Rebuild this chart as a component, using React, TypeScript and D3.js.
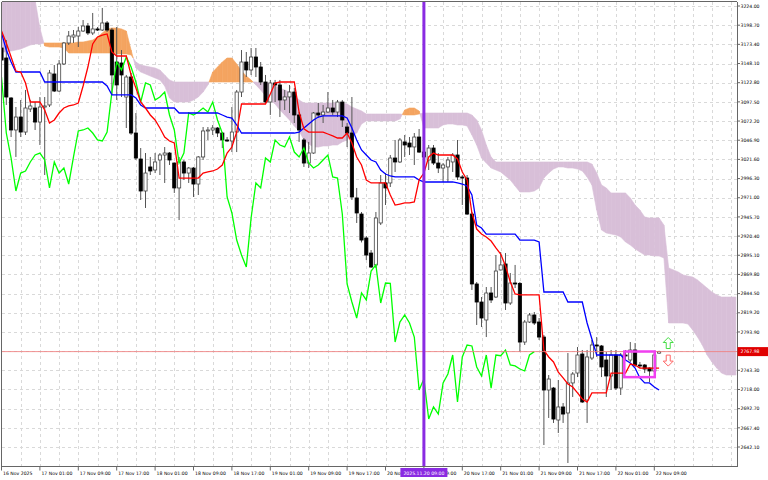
import React from "react";
import * as d3 from "d3";

// ---------- DATA (H1 bars, 16 Nov 17:00 .. 22 Nov 10:00) ----------
const opens = [
  3168.6, 3155.4, 3102.6, 3060.4, 3077.5, 3057.7, 3088.1, 3089.4, 3070.9, 3090.7,
  3093.4, 3134.3, 3111.8, 3147.5, 3175.2, 3183.1, 3184.4, 3191.0, 3197.6, 3188.4,
  3193.7, 3192.3, 3201.6, 3192.3, 3150.1, 3148.8, 3103.9, 3130.3, 3056.4, 3022.1,
  2979.9, 3011.6, 3007.6, 3020.8, 3027.4, 3030.0, 3016.8, 2983.9, 3018.2, 3003.6,
  3010.2, 2989.1, 3024.8, 3059.1, 3060.4, 3063.0, 3056.4, 3047.2, 3045.9, 3057.7,
  3110.5, 3150.1, 3139.6, 3156.7, 3143.5, 3123.7, 3097.3, 3122.4, 3119.8, 3100.0,
  3104.0, 3110.5, 3080.2, 3047.2, 3016.8, 3030.0, 3082.8, 3080.2, 3084.1, 3089.4,
  3084.1, 3097.3, 3064.3, 3056.4, 2970.7, 2949.5, 2917.9, 2898.0, 2882.3, 2937.7,
  2990.5, 2990.5, 3023.4, 3018.2, 3044.6, 3043.2, 3038.0, 3051.1, 3031.3, 3020.8,
  3036.6, 3016.8, 3010.2, 3011.6, 3018.2, 3027.4, 2998.4, 2997.0, 2949.5, 2857.2,
  2833.4, 2809.7, 2845.3, 2840.0, 2875.7, 2883.6, 2832.1, 2858.5, 2858.0, 2780.6,
  2807.0, 2816.3, 2807.0, 2787.2, 2717.3, 2719.9, 2677.7, 2694.9, 2687.0, 2726.6,
  2739.7, 2764.8, 2704.1, 2759.5, 2776.7, 2775.4, 2756.9, 2735.8, 2763.5, 2719.9,
  2763.5, 2756.9, 2770.1, 2750.3, 2750.3, 2746.3, 2742.4, 2766.0,
];
const highs = [
  3173.9, 3179.1, 3103.9, 3090.7, 3100.0, 3113.2, 3100.0, 3097.4, 3103.9, 3103.9,
  3139.6, 3146.1, 3152.7, 3176.5, 3191.0, 3192.3, 3196.3, 3205.5, 3201.6, 3214.8,
  3196.3, 3221.4, 3204.2, 3195.0, 3196.3, 3165.9, 3133.0, 3135.6, 3082.8, 3036.6,
  3030.0, 3024.8, 3030.0, 3030.0, 3037.9, 3031.3, 3017.5, 3024.8, 3020.8, 3011.6,
  3011.6, 3026.0, 3064.3, 3064.3, 3066.9, 3064.3, 3057.7, 3051.1, 3090.7, 3113.2,
  3165.9, 3163.3, 3168.6, 3168.6, 3150.1, 3133.0, 3126.4, 3126.4, 3126.4, 3113.2,
  3119.8, 3115.8, 3084.1, 3049.8, 3044.6, 3084.1, 3096.0, 3093.4, 3110.5, 3100.0,
  3100.0, 3100.0, 3069.6, 3103.9, 2983.9, 2952.2, 2920.5, 2902.0, 2952.2, 3001.0,
  3003.6, 3027.4, 3047.2, 3049.8, 3053.8, 3051.1, 3056.4, 3061.7, 3034.0, 3040.6,
  3040.6, 3030.0, 3016.8, 3024.8, 3030.0, 3047.2, 3001.0, 3001.0, 2952.2, 2859.8,
  2840.0, 2853.2, 2853.2, 2895.4, 2899.4, 2898.0, 2871.7, 2882.3, 2859.8, 2809.7,
  2818.9, 2820.2, 2812.3, 2789.9, 2737.1, 2721.3, 2730.5, 2700.1, 2766.1, 2741.0,
  2774.0, 2770.1, 2770.1, 2783.3, 2787.2, 2776.7, 2767.5, 2770.1, 2770.1, 2766.1,
  2770.1, 2780.6, 2779.3, 2754.3, 2751.6, 2747.0, 2766.1, 2769.0,
];
const lows = [
  3150.1, 3093.4, 3051.1, 3024.8, 3051.1, 3053.8, 3084.1, 3060.4, 3040.6, 3001.0,
  3090.7, 3110.5, 3110.5, 3146.1, 3172.5, 3175.2, 3169.9, 3189.7, 3185.7, 3185.7,
  3191.0, 3191.0, 3189.7, 3106.5, 3100.0, 3103.9, 3063.0, 3054.0, 3020.8, 2968.0,
  2957.5, 3001.0, 3003.6, 3001.0, 2990.5, 3014.2, 2977.3, 2941.6, 2994.4, 2990.5,
  2972.0, 2974.6, 3020.8, 3047.2, 3053.8, 3051.1, 3036.6, 3044.6, 3031.3, 3031.3,
  3103.9, 3130.3, 3132.9, 3130.3, 3119.8, 3096.0, 3080.2, 3097.3, 3077.5, 3086.8,
  3082.8, 3069.6, 3044.6, 3011.6, 3010.2, 3029.0, 3076.2, 3069.6, 3083.0, 3080.2,
  3077.5, 3064.3, 3037.9, 2968.0, 2937.7, 2912.0, 2888.8, 2878.3, 2878.3, 2935.0,
  2961.4, 2985.2, 3005.0, 3016.8, 3024.8, 3027.4, 3014.2, 3030.0, 3020.8, 3007.6,
  3014.2, 3003.6, 2991.8, 2991.8, 3005.0, 2994.4, 2961.4, 2948.2, 2849.3, 2803.1,
  2800.4, 2787.2, 2832.1, 2838.7, 2875.0, 2822.9, 2829.5, 2851.9, 2767.5, 2776.7,
  2805.7, 2803.1, 2783.3, 2644.7, 2680.4, 2673.8, 2660.6, 2673.8, 2621.0, 2708.1,
  2734.4, 2700.2, 2673.8, 2756.9, 2760.9, 2734.4, 2708.1, 2717.3, 2717.3, 2710.7,
  2756.9, 2754.3, 2747.7, 2746.3, 2739.7, 2727.9, 2741.0, 2765.0,
];
const closes = [
  3152.7, 3103.9, 3060.4, 3077.5, 3057.7, 3089.4, 3092.1, 3070.9, 3090.7, 3092.1,
  3135.6, 3111.8, 3147.5, 3175.2, 3184.4, 3185.7, 3191.0, 3197.6, 3188.4, 3193.7,
  3192.3, 3201.6, 3192.3, 3133.0, 3119.8, 3133.0, 3130.3, 3056.4, 3023.4, 2979.9,
  3003.6, 3006.3, 3018.2, 3027.4, 3030.0, 3020.8, 2983.9, 3018.2, 3003.6, 3010.2,
  2989.1, 3024.8, 3059.1, 3060.4, 3063.0, 3056.4, 3047.2, 3045.9, 3057.7, 3110.5,
  3150.1, 3139.6, 3156.7, 3143.5, 3123.7, 3097.3, 3122.4, 3119.8, 3100.0, 3104.0,
  3110.5, 3080.2, 3060.4, 3016.8, 3030.0, 3082.8, 3080.2, 3084.1, 3089.4, 3084.1,
  3097.3, 3073.6, 3056.4, 2972.0, 2950.9, 2915.2, 2895.4, 2879.6, 2944.3, 2990.5,
  2983.9, 3023.4, 3018.2, 3047.2, 3040.6, 3038.0, 3051.1, 3031.3, 3024.8, 3036.6,
  3016.8, 3010.2, 3014.2, 3020.8, 3027.4, 2998.4, 2997.0, 2949.5, 2857.2, 2833.4,
  2812.3, 2845.3, 2836.1, 2874.3, 2882.3, 2832.1, 2858.5, 2858.0, 2780.6, 2807.0,
  2816.3, 2805.7, 2787.2, 2717.3, 2731.8, 2679.0, 2694.9, 2685.6, 2726.6, 2738.4,
  2763.5, 2701.5, 2760.9, 2776.7, 2775.4, 2747.7, 2735.8, 2763.5, 2719.9, 2763.5,
  2762.5, 2770.1, 2750.3, 2749.0, 2745.0, 2742.4, 2763.5, 2767.98,
];
const tenkan = [
  3191.0, 3175.2, 3156.7, 3138.2, 3136.9, 3122.4, 3097.3, 3097.3, 3097.3, 3086.8,
  3069.6, 3073.6, 3082.8, 3089.4, 3092.1, 3093.4, 3096.0, 3118.4, 3143.5, 3173.9,
  3183.1, 3185.7, 3187.1, 3163.3, 3158.0, 3158.0, 3158.0, 3133.0, 3115.8, 3097.3,
  3089.4, 3080.2, 3073.6, 3063.0, 3051.1, 3045.9, 3043.2, 2997.0, 2997.0, 2997.0,
  2997.0, 2997.0, 3003.6, 3005.0, 3006.3, 3008.9, 3014.2, 3030.0, 3037.9, 3057.7,
  3094.7, 3094.7, 3094.7, 3094.7, 3094.7, 3094.7, 3108.0, 3122.4, 3123.7, 3123.7,
  3123.7, 3123.7, 3084.0, 3062.0, 3057.7, 3057.7, 3057.7, 3057.7, 3055.1, 3052.5,
  3049.8, 3049.8, 3056.4, 3043.2, 3024.8, 3014.2, 2994.4, 2990.5, 2990.5, 2990.5,
  2990.5, 2974.6, 2961.4, 2962.7, 2964.1, 2964.1, 2965.4, 2994.4, 3003.6, 3024.8,
  3030.0, 3027.4, 3027.4, 3027.4, 3027.4, 3022.1, 3005.0, 2994.4, 2950.9, 2929.7,
  2923.1, 2919.2, 2913.9, 2904.7, 2896.8, 2880.9, 2859.8, 2844.0, 2842.7, 2842.7,
  2842.7, 2842.7, 2842.7, 2770.1, 2760.9, 2754.3, 2741.0, 2733.2, 2725.2, 2721.3,
  2713.4, 2705.4, 2701.5, 2713.4, 2713.4, 2713.4, 2713.4, 2739.7, 2739.7, 2739.7,
  2739.7, 2751.6, 2750.3, 2746.3, 2746.3, 2746.3, 2746.3, 2746.3,
];
const kijun = [
  3188.4, 3165.9, 3150.1, 3136.9, 3136.9, 3136.9, 3136.9, 3136.9, 3136.9, 3123.7,
  3123.7, 3123.7, 3123.7, 3123.7, 3123.7, 3123.7, 3123.7, 3123.7, 3123.7, 3123.7,
  3123.7, 3123.7, 3118.4, 3106.6, 3106.6, 3106.6, 3106.6, 3106.6, 3102.6, 3093.4,
  3089.4, 3089.4, 3089.4, 3089.4, 3089.4, 3089.4, 3089.4, 3082.8, 3082.8, 3082.8,
  3082.8, 3082.8, 3082.8, 3082.8, 3082.8, 3082.8, 3080.2, 3077.5, 3076.2, 3067.0,
  3056.4, 3056.4, 3056.4, 3056.4, 3056.4, 3056.4, 3056.4, 3056.4, 3056.4, 3056.4,
  3056.4, 3056.4, 3057.7, 3063.0, 3068.3, 3073.6, 3077.5, 3078.9, 3078.9, 3078.9,
  3078.9, 3078.9, 3076.2, 3063.0, 3047.2, 3034.0, 3027.4, 3020.8, 3018.2, 3007.6,
  3002.3, 2999.7, 2998.4, 2998.4, 2998.4, 2998.4, 2998.4, 2994.4, 2991.8, 2991.8,
  2991.8, 2991.8, 2991.8, 2991.8, 2991.8, 2990.5, 2989.1, 2986.5, 2974.6, 2935.0,
  2931.1, 2923.1, 2923.1, 2923.1, 2923.1, 2923.1, 2923.1, 2923.1, 2915.2, 2915.2,
  2915.2, 2915.2, 2912.6, 2846.6, 2846.6, 2846.6, 2846.6, 2846.6, 2833.4, 2833.4,
  2833.4, 2833.4, 2805.7, 2784.6, 2763.5, 2763.5, 2763.5, 2763.5, 2763.5, 2763.5,
  2756.9, 2752.9, 2746.3, 2733.2, 2726.6, 2726.6, 2721.3, 2717.3,
];
// Senkou spans as displayed (already shifted 26 bars forward), bars 0..153
const spanA = [
  3163.3, 3163.3, 3164.6, 3165.9, 3167.3, 3169.9, 3172.5, 3173.9, 3173.9, 3175.2,
  3175.2, 3175.2, 3175.2, 3175.2, 3175.2, 3175.2, 3176.5, 3176.5, 3177.8, 3179.1,
  3183.1, 3188.4, 3193.7, 3195.0, 3195.0, 3193.7, 3191.0, 3165.9, 3142.2, 3136.9,
  3134.3, 3131.6, 3129.0, 3126.4, 3118.4, 3102.6, 3097.3, 3097.3, 3097.3, 3097.3,
  3100.0, 3103.9, 3110.5, 3119.8, 3136.9, 3143.5, 3150.1, 3155.4, 3155.4, 3147.5,
  3138.2, 3131.6, 3126.4, 3119.8, 3113.2, 3105.2, 3100.0, 3094.7, 3086.8, 3080.2,
  3073.6, 3065.7, 3059.1, 3047.2, 3041.9, 3037.9, 3037.9, 3039.3, 3039.3, 3040.6,
  3040.6, 3044.6, 3047.2, 3052.5, 3056.4, 3068.3, 3072.3, 3072.3, 3072.3, 3072.3,
  3072.3, 3072.3, 3072.3, 3074.9, 3086.8, 3089.4, 3089.4, 3085.5, 3063.0, 3063.0,
  3063.0, 3063.0, 3067.0, 3068.3, 3068.3, 3067.0, 3067.0, 3065.7, 3053.8, 3040.6,
  3023.4, 3016.8, 3010.2, 3007.6, 3005.0, 2999.7, 2994.4, 2986.5, 2978.6, 2978.6,
  2978.6, 2979.9, 2983.9, 2997.0, 3003.6, 3008.9, 3011.6, 3011.6, 3010.2, 3010.2,
  3008.9, 3006.3, 2998.4, 2987.8, 2954.8, 2928.4, 2924.5, 2923.1, 2921.8, 2919.2,
  2912.6, 2908.6, 2903.4, 2899.4, 2895.4, 2895.4, 2894.1, 2894.1, 2891.5, 2805.7,
  2805.7, 2805.7, 2805.7, 2804.4, 2796.5, 2787.2, 2776.7, 2763.5, 2754.3, 2746.3,
  2739.7, 2737.1, 2737.1, 2737.1,
];
const spanB = [
  3247.8, 3247.8, 3247.8, 3247.8, 3247.8, 3245.1, 3239.8, 3231.9, 3195.0, 3171.2,
  3169.9, 3169.9, 3169.9, 3168.6, 3162.0, 3162.0, 3162.0, 3162.0, 3162.0, 3162.0,
  3162.0, 3162.0, 3162.0, 3162.0, 3160.7, 3160.7, 3160.7, 3159.4, 3150.1, 3146.1,
  3144.8, 3143.5, 3142.2, 3139.6, 3133.0, 3126.4, 3123.7, 3123.7, 3123.7, 3123.7,
  3123.7, 3123.7, 3123.7, 3123.7, 3123.7, 3123.7, 3123.7, 3123.7, 3123.7, 3123.7,
  3123.7, 3123.7, 3123.7, 3123.7, 3122.4, 3122.4, 3122.4, 3118.4, 3115.8, 3113.2,
  3110.5, 3106.6, 3100.0, 3096.0, 3096.0, 3096.0, 3096.0, 3096.0, 3096.0, 3096.0,
  3096.0, 3096.0, 3094.7, 3090.7, 3088.1, 3085.5, 3081.5, 3081.5, 3081.5, 3081.5,
  3081.5, 3081.5, 3081.5, 3081.5, 3080.2, 3080.2, 3080.2, 3081.5, 3082.8, 3082.8,
  3082.8, 3082.8, 3082.8, 3082.8, 3082.8, 3082.8, 3082.8, 3082.8, 3080.2, 3073.6,
  3060.4, 3040.6, 3024.8, 3018.2, 3018.2, 3018.2, 3018.2, 3018.2, 3018.2, 3018.2,
  3018.2, 3018.2, 3018.2, 3018.2, 3018.2, 3018.2, 3018.2, 3018.2, 3018.2, 3018.2,
  3018.2, 3018.2, 3018.2, 3015.5, 3003.6, 2987.8, 2983.9, 2977.3, 2977.3, 2977.3,
  2977.3, 2970.7, 2961.4, 2954.8, 2945.6, 2944.3, 2944.3, 2944.3, 2935.0, 2878.3,
  2875.7, 2873.0, 2869.1, 2867.7, 2866.4, 2862.5, 2857.2, 2851.9, 2846.6, 2842.7,
  2840.0, 2840.0, 2840.0, 2840.0,
];
const priceTicks = [
  3224.0, 3198.7, 3173.4, 3148.1, 3122.8, 3097.5, 3072.2, 3046.9, 3021.6, 2996.3,
  2971.0, 2945.7, 2920.4, 2895.1, 2869.8, 2844.5, 2819.2, 2793.9, 2768.6, 2743.3,
  2718.0, 2692.7, 2667.4, 2642.1,
];
const timeLabels = [
  "16 Nov 2025", "17 Nov 01:00", "17 Nov 09:00", "17 Nov 17:00", "18 Nov 01:00",
  "18 Nov 09:00", "18 Nov 17:00", "19 Nov 01:00", "19 Nov 09:00", "19 Nov 17:00",
  "20 Nov 01:00", "20 Nov 09:00", "20 Nov 17:00", "21 Nov 01:00", "21 Nov 09:00",
  "21 Nov 17:00", "22 Nov 01:00", "22 Nov 09:00",
];
const LABEL_EVERY = 8; // bars between time labels
const chikouShift = 26;
const currentPrice = 2767.98;
const markerBar = 88; // vertical line 2025.11.20 09:00
const markerLabel = "2025.11.20 09:00";
const boxBars = [129.75, 136.1];
const boxPrices = [2768.1, 2734.3];
const arrowBar = 138.9;
const upArrowPrice = 2779.3;
const downArrowPrice = 2756.1;

const FONT = "'DejaVu Sans', sans-serif";

export default function App() {
  const W = 768, H = 480;
  const L = 1.5, R = 737, T = 1.5, B = 466.5;
  const x = d3.scaleLinear().domain([0, 1]).range([1.5, 1.5 + 4.8]);
  const y = d3.scaleLinear().domain([2642.1, 3224]).range([447, 6]);
  const bodyW = 3.2;

  // cloud polygons
  const polys: { pts: [number, number][]; bull: boolean }[] = [];
  for (let i = 0; i < spanA.length - 1; i++) {
    const a0 = spanA[i], b0 = spanB[i], a1 = spanA[i + 1], b1 = spanB[i + 1];
    const d0 = a0 - b0, d1 = a1 - b1;
    if (d0 * d1 < 0) {
      const t = d0 / (d0 - d1);
      const xm = i + t;
      const pm = a0 + (a1 - a0) * t;
      polys.push({ pts: [[i, a0], [xm, pm], [i, b0]], bull: d0 > 0 });
      polys.push({ pts: [[xm, pm], [i + 1, a1], [i + 1, b1]], bull: d1 > 0 });
    } else {
      polys.push({ pts: [[i, a0], [i + 1, a1], [i + 1, b1], [i, b0]], bull: d0 + d1 > 0 });
    }
  }

  const line = d3.line<number>().x((_, i) => x(i)).y((v) => y(v));
  const chikou = closes.slice(chikouShift);

  const vGrid = d3.range(4, 154, 4);
  const cpY = y(currentPrice);

  const arrowUp = (cx: number, cy: number) =>
    `M${cx},${cy - 5.5} L${cx + 5},${cy - 0.5} L${cx + 2},${cy - 0.5} L${cx + 2},${cy + 5.5} L${cx - 2},${cy + 5.5} L${cx - 2},${cy - 0.5} L${cx - 5},${cy - 0.5} Z`;
  const arrowDown = (cx: number, cy: number) =>
    `M${cx},${cy + 5.5} L${cx + 5},${cy + 0.5} L${cx + 2},${cy + 0.5} L${cx + 2},${cy - 5.5} L${cx - 2},${cy - 5.5} L${cx - 2},${cy + 0.5} L${cx - 5},${cy + 0.5} Z`;

  return (
    <div style={{ position: "absolute", left: 0, top: 0 }}>
      <svg width={W} height={H} style={{ display: "block", background: "#fff" }}>
        <defs>
          <clipPath id="plot">
            <rect x={L} y={T} width={R - L} height={B - T} />
          </clipPath>
        </defs>
        {/* grid */}
        <g stroke="#d9d9d9" strokeWidth={1} strokeDasharray="3,3" shapeRendering="crispEdges">
          {priceTicks.map((p) => (
            <line key={"h" + p} x1={L} x2={R} y1={Math.round(y(p)) + 0.5} y2={Math.round(y(p)) + 0.5} />
          ))}
          {vGrid.map((b) => (
            <line key={"v" + b} x1={Math.round(x(b)) + 0.5} x2={Math.round(x(b)) + 0.5} y1={T} y2={B} />
          ))}
        </g>
        <g clipPath="url(#plot)">
          {/* cloud */}
          {polys.map((p, k) => (
            <polygon
              key={k}
              points={p.pts.map(([bi, v]) => `${x(bi)},${y(v)}`).join(" ")}
              fill={p.bull ? "#F4A460" : "#D8BFD8"}
              stroke={p.bull ? "#F4A460" : "#D8BFD8"}
              strokeWidth={0.6}
            />
          ))}
          {/* candles */}
          {opens.map((o, i) => {
            const c = closes[i];
            const cx = x(i);
            const top = y(Math.max(o, c));
            const bot = y(Math.min(o, c));
            const bull = c >= o;
            return (
              <g key={"c" + i}>
                <line x1={cx} x2={cx} y1={y(highs[i])} y2={y(lows[i])} stroke="#555" strokeWidth={1} />
                <rect
                  x={cx - bodyW / 2}
                  y={top}
                  width={bodyW}
                  height={Math.max(1, bot - top)}
                  fill={bull ? "#fff" : "#000"}
                  stroke={bull ? "#444" : "#000"}
                  strokeWidth={0.8}
                />
              </g>
            );
          })}
          {/* ichimoku lines */}
          <path d={line(chikou) || ""} fill="none" stroke="#00ff00" strokeWidth={1.3} />
          <path d={line(kijun) || ""} fill="none" stroke="#0000ff" strokeWidth={1.3} />
          <path d={line(tenkan) || ""} fill="none" stroke="#ff0000" strokeWidth={1.3} />
          {/* current price line */}
          <line x1={L} x2={R} y1={cpY} y2={cpY} stroke="#f08080" strokeWidth={1} opacity={0.85} />
          {/* vertical marker */}
          <line x1={x(markerBar)} x2={x(markerBar)} y1={T} y2={B} stroke="#8a2be2" strokeWidth={3} />
          {/* box */}
          <rect
            x={x(boxBars[0])}
            y={y(boxPrices[0])}
            width={x(boxBars[1]) - x(boxBars[0])}
            height={y(boxPrices[1]) - y(boxPrices[0])}
            fill="none"
            stroke="#f040f0"
            strokeWidth={2.5}
          />
          {/* arrows */}
          <path d={arrowUp(x(arrowBar), y(upArrowPrice))} fill="#fff" stroke="#44dd44" strokeWidth={1} />
          <path d={arrowDown(x(arrowBar), y(downArrowPrice))} fill="#fff" stroke="#ff6666" strokeWidth={1} />
        </g>
        {/* frame */}
        <g stroke="#666" strokeWidth={1} shapeRendering="crispEdges">
          <line x1={L} x2={L} y1={T} y2={B} />
          <line x1={L} x2={R} y1={T} y2={T} />
          <line x1={R} x2={R} y1={T} y2={B} />
          <line x1={L} x2={R} y1={B} y2={B} />
        </g>
        {/* price axis */}
        <g fontFamily={FONT} fontSize={4.6} fill="#000">
          {priceTicks.map((p) => (
            <g key={"pt" + p}>
              <line x1={R} x2={R + 3} y1={y(p)} y2={y(p)} stroke="#666" strokeWidth={1} />
              <text x={R + 3.5} y={y(p) + 1.7}>{p.toFixed(2)}</text>
            </g>
          ))}
          <rect x={R + 0.5} y={cpY - 4.5} width={768 - R} height={9} fill="#e00000" />
          <text x={R + 3.5} y={cpY + 1.7} fill="#fff">{currentPrice.toFixed(2)}</text>
        </g>
        {/* time axis */}
        <g fontFamily={FONT} fontSize={4.6} fill="#000">
          {timeLabels.map((t, k) => {
            const bx = x(k * LABEL_EVERY);
            return (
              <g key={"tl" + k}>
                <line x1={bx} x2={bx} y1={B} y2={B + 4} stroke="#666" strokeWidth={1} />
                <text x={bx + 1.5} y={B + 8}>{t}</text>
              </g>
            );
          })}
          <rect x={x(markerBar) - 23.5} y={B + 1.5} width={47} height={9} fill="#8a2be2" />
          <text x={x(markerBar)} y={B + 8} fill="#fff" textAnchor="middle">{markerLabel}</text>
        </g>
      </svg>
    </div>
  );
}
